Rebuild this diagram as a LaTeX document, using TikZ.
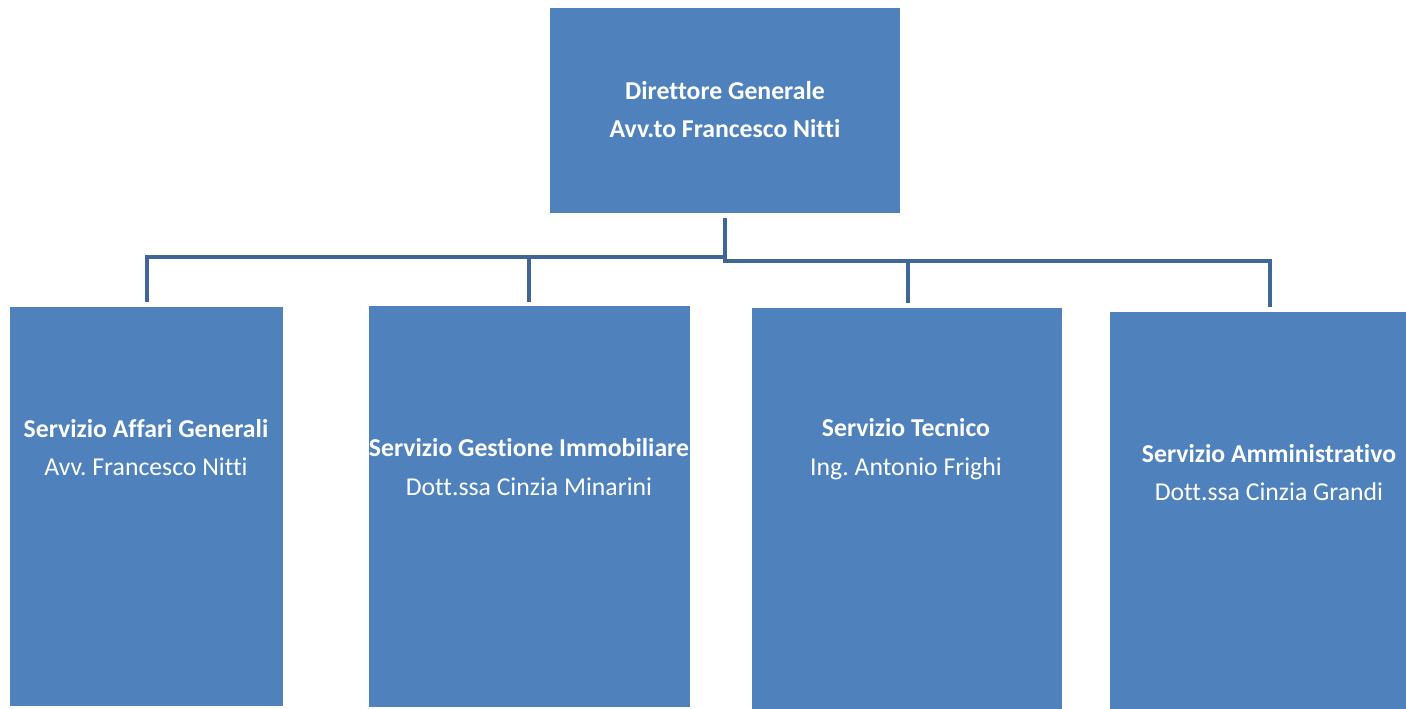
\documentclass[tikz,border=0pt]{standalone}
\usepackage{fontspec}
\setmainfont[Ligatures=NoCommon]{Carlito}
\frenchspacing
\definecolor{boxblue}{HTML}{4F81BD}
\definecolor{lineblue}{HTML}{3F6696}

\begin{document}
\begin{tikzpicture}[x=0.75pt,y=-0.75pt]
        \tikzstyle{every node}=[inner sep=0pt,outer sep=0pt]
        \tikzstyle{office}=[fill=boxblue,rectangle]
        \tikzstyle{label}=[text=white,align=center,font=\fontsize{19.3}{29}\selectfont]
        \tikzstyle{link}=[draw=lineblue,line width=3pt]
        \useasboundingbox (0,0) rectangle (1406,709);
        % boxes
        \node[office,minimum width=262.5pt,minimum height=153.75pt] (dg) at (725,110.5) {};
        \node[office,minimum width=204.75pt,minimum height=299.25pt] (affari) at (146.5,506.5) {};
        \node[office,minimum width=240.75pt,minimum height=300.75pt] (gestione) at (529.5,506.5) {};
        \node[office,minimum width=232.5pt,minimum height=300.75pt] (tecnico) at (907,508.5) {};
        \node[office,minimum width=222pt,minimum height=297.75pt] (ammin) at (1258,510.5) {};
        % texts
        \node[label] (dgtext) at (725,109.5) {\textbf{Direttore Generale}\\\textbf{Avv.to Francesco Nitti}};
        \node[label] (affaritext) at (146,447.5) {\textbf{Servizio Affari Generali}\\Avv. Francesco Nitti};
        \node[label] (gestionetext) at (529,467) {\textbf{Servizio Gestione Immobiliare}\\Dott.ssa Cinzia Minarini};
        \node[label] (tecnicotext) at (906,449) {\textbf{Servizio Tecnico}\\Ing. Antonio Frighi};
        \node[label] (ammintext) at (1269,472.5) {\textbf{Servizio Amministrativo}\\Dott.ssa Cinzia Grandi};
        % connectors
        \coordinate (busL) at (725,257);
        \coordinate (busR) at (725,261);
        \coordinate (dropA) at (147,302);
        \coordinate (dropB) at (529,302);
        \coordinate (dropC) at (908,303);
        \coordinate (dropD) at (1270,307);
        \draw[link] ([yshift=-3.75pt]dg.south) -- (busL) -| (dropA);
        \draw[link] (busL) -| (dropB);
        \draw[link] (busL) -- (busR) -| (dropC);
        \draw[link] (busR) -| (dropD);
\end{tikzpicture}
\end{document}
